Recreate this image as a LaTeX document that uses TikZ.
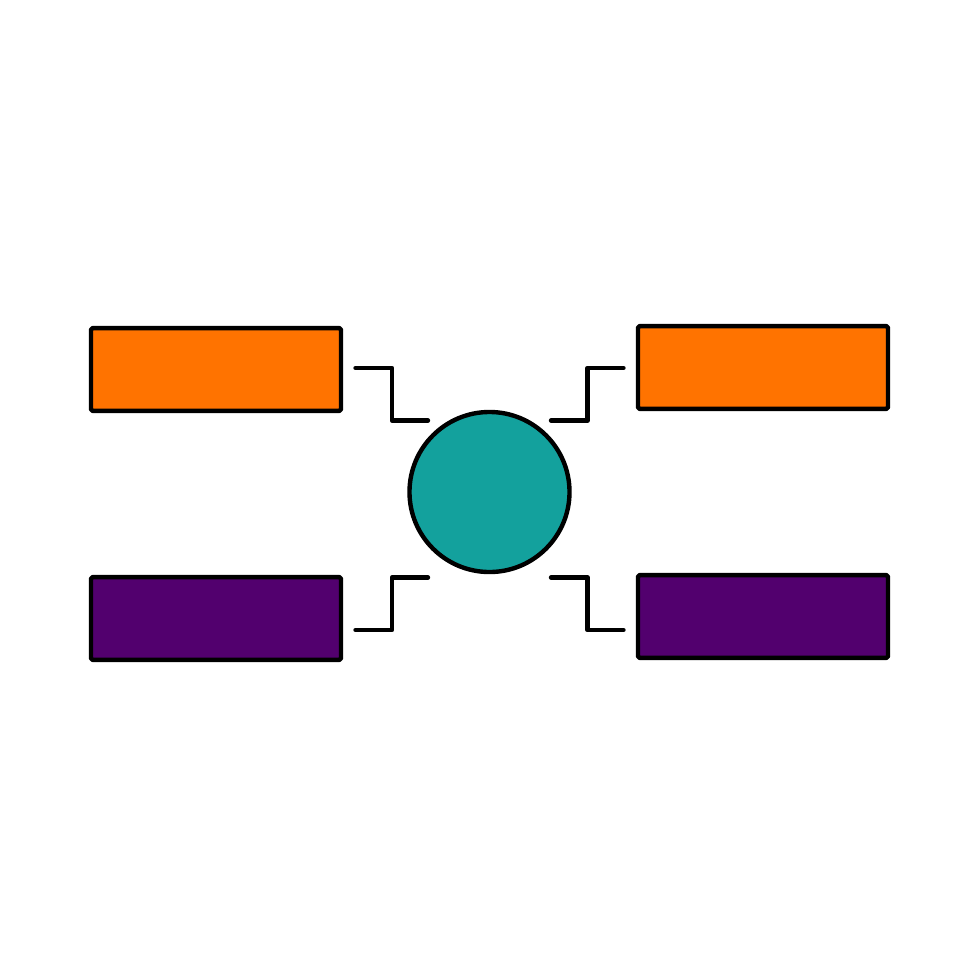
\documentclass[tikz,border=0pt]{standalone}
\begin{document}
\begin{tikzpicture}[x=0.025cm,y=-0.025cm,
  box/.style={draw=black,line width=0.11cm,line join=round,rectangle,rounded corners=0.04cm,minimum width=6.25cm,minimum height=2.07cm,inner sep=0pt},
  hub/.style={draw=black,line width=0.11cm,circle,fill=hubcol,minimum size=4cm,inner sep=0pt},
  link/.style={draw=black,line width=0.11cm,line cap=round,line join=round}]
\definecolor{orangecol}{HTML}{FF7300}
\definecolor{purplecol}{HTML}{52006E}
\definecolor{hubcol}{HTML}{13A19D}
\useasboundingbox (0,0) rectangle (980,980);
\node[box,fill=orangecol] (tl) at (216,369.5) {};
\node[box,fill=orangecol] (tr) at (763,367.5) {};
\node[box,fill=purplecol] (bl) at (216,618.5) {};
\node[box,fill=purplecol] (br) at (763,616.5) {};
\node[hub] (c) at (489.5,492) {};
\coordinate (a1) at (355.5,368); \coordinate (a2) at (428,420.5);
\coordinate (b1) at (623.5,368); \coordinate (b2) at (551,420.5);
\coordinate (c1) at (355.5,630); \coordinate (c2) at (428,577.5);
\coordinate (d1) at (623.5,630); \coordinate (d2) at (551,577.5);
\draw[link] (a1) -- (392,368) -- (392,420.5) -- (a2);
\draw[link] (b1) -- (587.5,368) -- (587.5,420.5) -- (b2);
\draw[link] (c1) -- (392,630) -- (392,577.5) -- (c2);
\draw[link] (d1) -- (587.5,630) -- (587.5,577.5) -- (d2);
\end{tikzpicture}
\end{document}
